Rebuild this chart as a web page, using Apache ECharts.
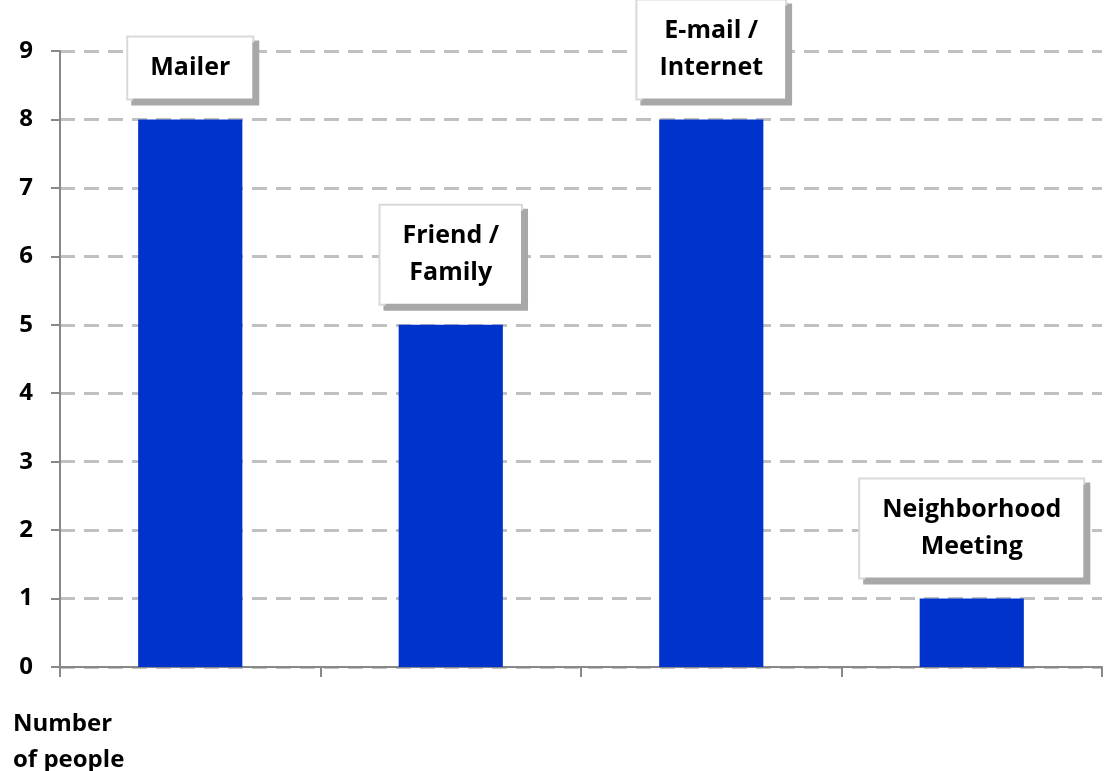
<!DOCTYPE html>
<html>
<head>
<meta charset="utf-8">
<script src="https://cdn.jsdelivr.net/npm/echarts@6/dist/echarts.min.js"></script>
<style>
  html, body { margin: 0; padding: 0; background: #fff; }
  #chart { width: 1107px; height: 771px; }
</style>
</head>
<body>
<div id="chart"></div>
<script>
const categories = ["Mailer", "Friend /\nFamily", "E-mail /\nInternet", "Neighborhood\nMeeting"];
const people = [8, 5, 8, 1];
const yTicks = [0, 1, 2, 3, 4, 5, 6, 7, 8, 9];

const FONT = "'Open Sans', sans-serif";
const chart = echarts.init(document.getElementById("chart"));

chart.setOption({
  animation: false,
  textStyle: { fontFamily: FONT },
  title: {
    text: "Number\nof people",
    left: 8,
    top: 701,
    textStyle: { fontSize: 24, fontWeight: "bold", color: "#000", lineHeight: 36, fontFamily: FONT }
  },
  grid: { left: 60, right: 5, top: 51, bottom: 104 },
  xAxis: {
    type: "category",
    data: categories,
    axisLine: { lineStyle: { color: "#888", width: 2 } },
    axisTick: { show: true, length: 10, lineStyle: { color: "#888", width: 2 } },
    axisLabel: { show: false }
  },
  yAxis: {
    type: "value",
    min: yTicks[0],
    max: yTicks[yTicks.length - 1],
    interval: 1,
    axisLine: { show: true, lineStyle: { color: "#888", width: 2 } },
    axisTick: { show: true, length: 9, lineStyle: { color: "#888", width: 2 } },
    axisLabel: { fontSize: 24, fontWeight: "bold", color: "#000", margin: 27, fontFamily: FONT },
    splitLine: { lineStyle: { color: "#c0c0c0", width: 3, type: [15, 9] } }
  },
  series: [{
    type: "bar",
    data: people,
    barWidth: "40%",
    itemStyle: { color: "#0033cc" },
    label: {
      show: true,
      position: "top",
      distance: 21,
      formatter: p => p.name,
      fontSize: 25,
      fontWeight: "bold",
      color: "#000",
      lineHeight: 37,
      fontFamily: FONT,
      backgroundColor: "#fff",
      borderColor: "#d9d9d9",
      borderWidth: 2,
      padding: [12, 22, 12, 22],
      shadowColor: "#a8a8a8",
      shadowOffsetX: 5,
      shadowOffsetY: 5,
      shadowBlur: 0
    }
  }]
});
</script>
</body>
</html>
